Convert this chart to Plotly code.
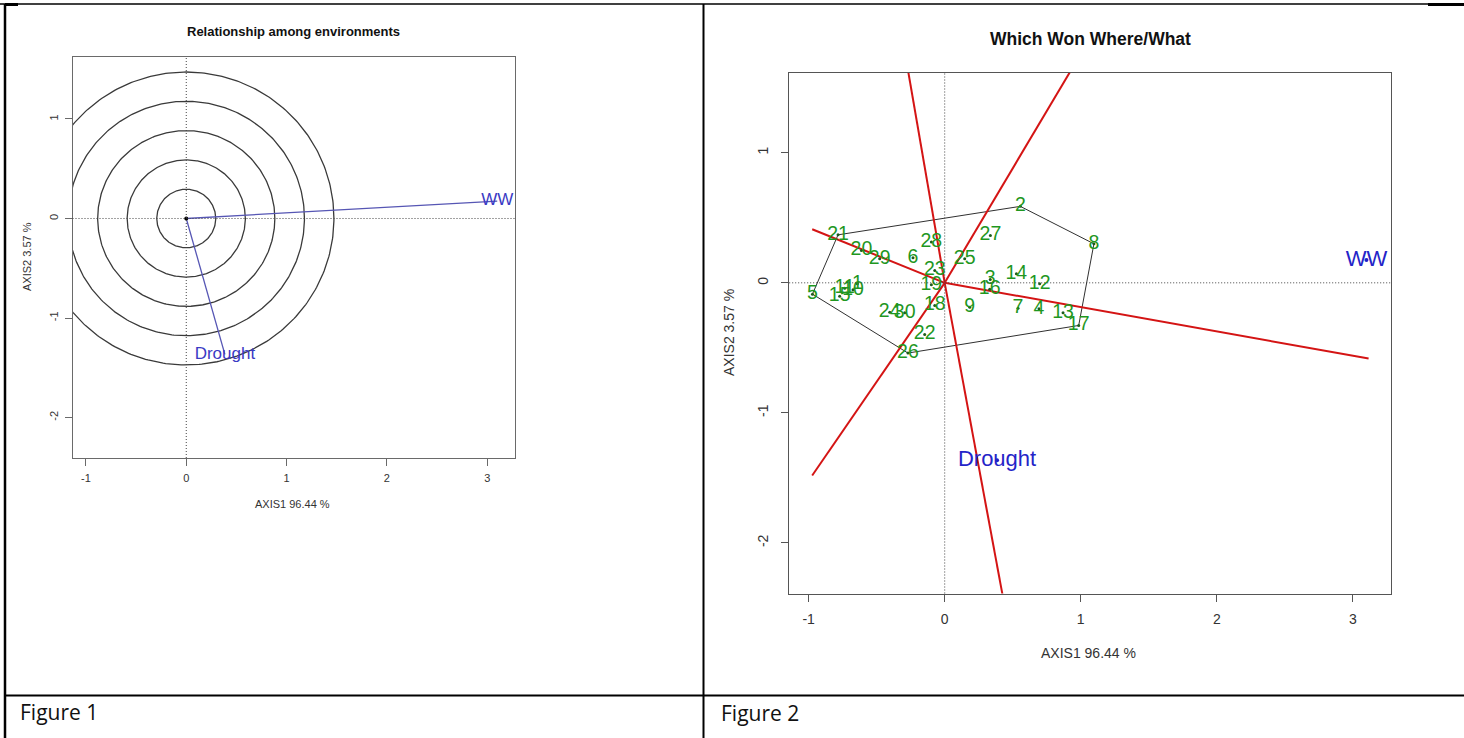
import numpy as np
import plotly.graph_objects as go

W, H = 1464, 738

# ---------------- data ----------------
# environment coordinates (AXIS1, AXIS2)
env_names = ["WW", "Drought"]
env_x = [3.10, 0.385]
env_y = [0.175, -1.365]

# concentric circle radii of Figure 1
circle_r = [0.294, 0.589, 0.883, 1.178, 1.472]

# genotype coordinates of Figure 2
gen_names = [str(i) for i in range(1, 31)]
gen_x = [-0.642, 0.556, 0.335, 0.693, -0.972, -0.233, 0.539, 1.097, 0.184, -0.674,
         -0.735, 0.698, 0.870, 0.527, -0.772, 0.331, 0.985, -0.073, -0.098, -0.612,
         -0.784, -0.147, -0.073, -0.404, 0.147, -0.270, 0.336, -0.098, -0.478, -0.294]
gen_y = [-0.008, 0.588, 0.025, -0.200, -0.087, 0.192, -0.195, 0.300, -0.187, -0.054,
         -0.041, -0.008, -0.231, 0.069, -0.103, -0.050, -0.328, -0.174, -0.015, 0.249,
         0.369, -0.397, 0.095, -0.226, 0.185, -0.540, 0.364, 0.313, 0.185, -0.231]

# convex hull (polygon) vertices, in drawing order
hull = ["2", "8", "17", "26", "5", "21"]

# red sector rays from the origin: end points
ray_x = [-0.974, 3.116, -0.274, 0.943, -0.974, 0.434]
ray_y = [0.412, -0.582, 1.660, 1.660, -1.482, -2.450]

# axes
x_ticks = [-1, 0, 1, 2, 3]
x_ticktext = ["-1", "0", "1", "2", "3"]
y_ticks = [-2, -1, 0, 1]
y_ticktext = ["-2", "-1", "0", "1"]
x_title = "AXIS1 96.44 %"
y_title = "AXIS2 3.57 %"
title1 = "Relationship among environments"
title2 = "Which Won Where/What"
caption1 = "Figure 1"
caption2 = "Figure 2"

FONT = "Liberation Sans, Arial, sans-serif"


def px(x):
    return x / W


def py(y):
    return 1 - y / H


fig = go.Figure()

# ---------- Figure 1 ----------
t = np.linspace(0, 2 * np.pi, 361)
for r in circle_r:
    fig.add_trace(go.Scatter(x=r * np.cos(t), y=r * np.sin(t), mode="lines",
                             line=dict(color="#3a3a3a", width=1.3),
                             xaxis="x", yaxis="y", hoverinfo="skip", showlegend=False))
for ex, ey in zip(env_x, env_y):
    fig.add_trace(go.Scatter(x=[0, ex], y=[0, ey], mode="lines",
                             line=dict(color="#5656b4", width=1.3),
                             xaxis="x", yaxis="y", hoverinfo="skip", showlegend=False))
fig.add_trace(go.Scatter(x=[0], y=[0], mode="markers", marker=dict(color="black", size=4),
                         xaxis="x", yaxis="y", hoverinfo="skip", showlegend=False))
fig.add_trace(go.Scatter(x=env_x, y=env_y, mode="text", text=env_names,
                         textposition="middle center",
                         textfont=dict(family=FONT, size=17, color="#3a3ac4"),
                         xaxis="x", yaxis="y", hoverinfo="skip", showlegend=False))

# ---------- Figure 2 ----------
gmap = dict(zip(gen_names, zip(gen_x, gen_y)))
hx = [gmap[h][0] for h in hull] + [gmap[hull[0]][0]]
hy = [gmap[h][1] for h in hull] + [gmap[hull[0]][1]]
fig.add_trace(go.Scatter(x=hx, y=hy, mode="lines", line=dict(color="#303030", width=1),
                         xaxis="x2", yaxis="y2", hoverinfo="skip", showlegend=False))
for rx, ry in zip(ray_x, ray_y):
    fig.add_trace(go.Scatter(x=[0, rx], y=[0, ry], mode="lines",
                             line=dict(color="#d41414", width=2),
                             xaxis="x2", yaxis="y2", hoverinfo="skip", showlegend=False))
fig.add_trace(go.Scatter(x=gen_x, y=gen_y, mode="markers+text", text=gen_names,
                         textposition="middle center",
                         marker=dict(color="#1c5c1c", size=3),
                         textfont=dict(family=FONT, size=19.5, color="#1f971f"),
                         xaxis="x2", yaxis="y2", hoverinfo="skip", showlegend=False))
fig.add_trace(go.Scatter(x=env_x, y=env_y, mode="markers+text", text=env_names,
                         textposition="middle center",
                         marker=dict(color="#2020c8", size=4),
                         textfont=dict(family=FONT, size=22, color="#2424c8"),
                         xaxis="x2", yaxis="y2", hoverinfo="skip", showlegend=False))


def axis(domain, rng, ticks, ticktext, anchor, size, color, standoff, angle=0):
    return dict(domain=domain, range=rng, tickvals=ticks, ticktext=ticktext,
                anchor=anchor, showgrid=False, zeroline=False, showline=True,
                mirror=True, linecolor=color, linewidth=1, ticks="outside",
                ticklen=7, tickcolor=color, tickwidth=1, tickangle=angle,
                ticklabelstandoff=standoff,
                tickfont=dict(family=FONT, size=size, color="#333"), fixedrange=True)


fig.update_layout(
    width=W, height=H, margin=dict(l=0, r=0, t=0, b=0),
    paper_bgcolor="white", plot_bgcolor="white", showlegend=False,
    xaxis=axis([px(72.5), px(515)], [-1.134, 3.277], x_ticks, x_ticktext, "y", 11, "#6a6a6a", 3),
    yaxis=axis([py(458), py(56.5)], [-2.407, 1.628], y_ticks, y_ticktext, "x", 11, "#6a6a6a", 2, -90),
    xaxis2=axis([px(789.2), px(1390.5)], [-1.143, 3.277], x_ticks, x_ticktext, "y2", 14, "#555", 6),
    yaxis2=axis([py(593.5), py(72.8)], [-2.389, 1.615], y_ticks, y_ticktext, "x2", 14, "#555", 8, -90),
)

shapes = []
# dotted reference lines
for xr, yr in (("x", "y"), ("x2", "y2")):
    shapes.append(dict(type="line", xref=xr + " domain", yref=yr, x0=0, x1=1, y0=0, y1=0,
                       line=dict(color="#444", width=1, dash="1px,2px")))
    shapes.append(dict(type="line", xref=xr, yref=yr + " domain", x0=0, x1=0, y0=0, y1=1,
                       line=dict(color="#444", width=1, dash="1px,2px")))


# table borders
def pline(x0, y0, x1, y1, w):
    shapes.append(dict(type="line", xref="paper", yref="paper", x0=px(x0), x1=px(x1),
                       y0=py(y0), y1=py(y1), line=dict(color="black", width=w)))


pline(0, 4, 1464, 4, 1.5)
pline(5, 4.5, 18, 4.5, 3)
pline(1428, 4.5, 1464, 4.5, 3)
pline(5, 4, 5, 738, 2.5)
pline(703.5, 4, 703.5, 738, 2)
pline(5, 695.5, 1464, 695.5, 2)

annotations = []


def ann(text, x, y, size, color="#222", angle=0, xanchor="center", family=FONT):
    annotations.append(dict(text=text, x=px(x), y=py(y), xref="paper", yref="paper",
                            showarrow=False, textangle=angle, xanchor=xanchor, yanchor="middle",
                            font=dict(family=family, size=size, color=color)))


ann("<b>" + title1 + "</b>", 293, 31.5, 13, "#111")
ann(x_title, 292, 504, 11, "#333")
ann(y_title, 27, 257, 11, "#333", -90)
ann("<b>" + title2 + "</b>", 1090, 39, 17.5, "#111")
ann(x_title, 1088, 653, 14, "#333")
ann(y_title, 729, 333, 14, "#333", -90)
ann(caption1, 18, 712, 21, "#111", xanchor="left", family="Open Sans, sans-serif")
ann(caption2, 719, 713, 21, "#111", xanchor="left", family="Open Sans, sans-serif")

fig.update_layout(shapes=shapes, annotations=annotations)
fig.write_html("out.html", config={"displayModeBar": False},
               post_script="document.body.style.margin='0px';document.body.style.overflow='hidden';")
